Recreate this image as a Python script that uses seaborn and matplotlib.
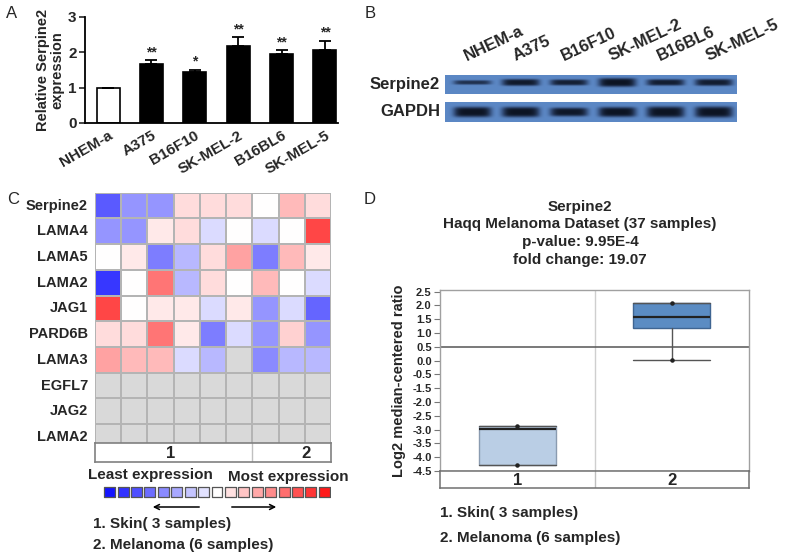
import numpy as np
import matplotlib
matplotlib.use("Agg")
import matplotlib.pyplot as plt
from matplotlib.colors import LinearSegmentedColormap, ListedColormap
import seaborn as sns

sns.set_theme(style="white")
plt.rcParams['font.family'] = ['Liberation Sans', 'DejaVu Sans']
plt.rcParams['font.weight'] = 'bold'

# ---------------- data ----------------
# Panel A
cells = ["NHEM-a", "A375", "B16F10", "SK-MEL-2", "B16BL6", "SK-MEL-5"]
rel_expr = [1.0, 1.68, 1.44, 2.18, 1.94, 2.06]
rel_err = [0.0, 0.10, 0.07, 0.25, 0.12, 0.27]
stars = ["", "**", "*", "**", "**", "**"]

# Panel B (band darkness / thickness per lane)
blot_lanes = ["NHEM-a", "A375", "B16F10", "SK-MEL-2", "B16BL6", "SK-MEL-5"]
serpine2_band = [0.75, 0.95, 0.9, 1.0, 0.92, 0.92]
serpine2_thick = [0.11, 0.17, 0.15, 0.22, 0.16, 0.17]
gapdh_band = [1.0, 1.0, 0.97, 1.0, 1.0, 1.0]
gapdh_thick = [0.26, 0.26, 0.22, 0.25, 0.28, 0.28]

# Panel C
genes = ["Serpine2", "LAMA4", "LAMA5", "LAMA2", "JAG1", "PARD6B", "LAMA3",
         "EGFL7", "JAG2", "LAMA2"]
nan = np.nan
heat_values = [
    [-0.70, -0.45, -0.45, 0.15, 0.15, 0.15, 0.00, 0.30, 0.15],
    [-0.45, -0.45, 0.10, 0.15, -0.15, 0.00, -0.15, 0.00, 0.80],
    [0.00, 0.10, -0.55, -0.30, 0.15, 0.40, -0.55, 0.30, 0.10],
    [-0.85, 0.00, 0.60, -0.30, 0.15, 0.00, 0.30, 0.00, -0.15],
    [0.80, 0.00, 0.10, 0.10, -0.15, 0.10, -0.45, -0.15, -0.65],
    [0.15, 0.15, 0.60, 0.10, -0.55, -0.15, -0.45, 0.20, -0.45],
    [0.40, 0.30, 0.30, -0.15, -0.30, nan, -0.50, -0.30, -0.30],
    [nan] * 9,
    [nan] * 9,
    [nan] * 9,
]
column_groups = ["1", "1", "1", "1", "1", "1", "2", "2", "2"]
legend_levels = [-1.0, -0.875, -0.75, -0.625, -0.5, -0.375, -0.25, -0.125, 0.0,
                 0.125, 0.25, 0.375, 0.5, 0.625, 0.75, 0.875, 1.0]

# Panel D
d_groups = ["1", "2"]
d_min = [-4.30, 0.04]
d_q1 = [-4.30, 1.18]
d_med = [-2.97, 1.57]
d_q3 = [-2.87, 2.10]
d_max = [-2.87, 2.10]
d_ticks = [2.5, 2.0, 1.5, 1.0, 0.5, 0.0, -0.5, -1.5, -2.0, -2.5, -3.0, -3.5, -4.0, -4.5]
d_title = ["Serpine2", "Haqq Melanoma Dataset (37 samples)",
           "p-value: 9.95E-4", "fold change: 19.07"]
sample_notes = ["1. Skin( 3 samples)", "2. Melanoma (6 samples)"]

# ---------------- figure helpers ----------------
W, H = 800, 557
fig = plt.figure(figsize=(W / 100, H / 100), dpi=100)


def px_axes(x0, y0, x1, y1):
    return fig.add_axes([x0 / W, 1 - y1 / H, (x1 - x0) / W, (y1 - y0) / H])


def ftext(x, y, s, **kw):
    kw.setdefault("fontweight", "bold")
    return fig.text(x / W, 1 - y / H, s, **kw)


def fxy(x, y):
    return (x / W, 1 - y / H)


# panel letters
for lab, (x, y) in zip("ABCD", [(12, 13), (370, 13), (13, 199), (370, 199)]):
    ftext(x, y, lab, fontsize=12, fontweight="normal", ha="center", va="center")

# ---------------- Panel A ----------------
axA = px_axes(85, 17, 338, 123)
bar_colors = {c: ("white" if i == 0 else "black") for i, c in enumerate(cells)}
sns.barplot(x=cells, y=rel_expr, hue=cells, palette=bar_colors, legend=False,
            edgecolor="black", linewidth=1.2, width=0.53, errorbar=None,
            saturation=1, ax=axA)
xpos = np.arange(len(cells))
axA.errorbar(xpos, rel_expr, yerr=[np.zeros(len(cells)), rel_err], fmt="none",
             ecolor="black", elinewidth=1.3, capsize=4, capthick=1.3)
for x, v, e, s in zip(xpos, rel_expr, rel_err, stars):
    if s:
        axA.text(x, v + e + 0.02, s, ha="center", va="bottom", fontsize=10,
                 fontweight="bold")
axA.set_xlim(-0.53, 5.3)
axA.set_ylim(0, 3)
axA.set_yticks([0, 1, 2, 3])
axA.set_yticklabels(["0", "1", "2", "3"], fontsize=11, fontweight="bold")
axA.set_xticks(xpos)
axA.set_xticklabels(cells, rotation=30, ha="right", rotation_mode="anchor",
                    fontsize=11, fontweight="bold")
axA.tick_params(axis="y", length=4, width=1.2, direction="out", left=True, pad=2)
axA.tick_params(axis="x", length=0, pad=4)
for sp in ["top", "right"]:
    axA.spines[sp].set_visible(False)
for sp in ["left", "bottom"]:
    axA.spines[sp].set_linewidth(1.3)
    axA.spines[sp].set_color("black")
axA.set_ylabel("Relative Serpine2\nexpression", fontsize=10.5, fontweight="bold",
               linespacing=1.0, labelpad=3)
axA.set_xlabel("")

# ---------------- Panel B ----------------
blot_cmap = LinearSegmentedColormap.from_list(
    "blot", [(0.36, 0.53, 0.77), (0.20, 0.30, 0.47), (0.05, 0.08, 0.14)])


def blot_image(dark, thick, center):
    xs = np.linspace(-0.56, 5.47, 320)
    ys = np.linspace(0, 1, 40)
    X, Y = np.meshgrid(xs, ys)
    img = np.zeros_like(X)
    for i, (d, t) in enumerate(zip(dark, thick)):
        hprof = np.exp(-((X - i) / 0.39) ** 6)
        vprof = np.exp(-((Y - center) / t) ** 4)
        img = np.maximum(img, d * hprof * vprof)
    return img


for (y0, y1), dark, thick, cen, name, ly in [
        ((75, 94), serpine2_band, serpine2_thick, 0.42, "Serpine2", 85),
        ((102, 122), gapdh_band, gapdh_thick, 0.5, "GAPDH", 112)]:
    axb = px_axes(445, y0, 737, y1)
    axb.imshow(blot_image(dark, thick, cen), cmap=blot_cmap, vmin=0, vmax=1,
               extent=(-0.56, 5.47, 1, 0), aspect="auto", interpolation="bilinear")
    axb.set_xticks([])
    axb.set_yticks([])
    for sp in axb.spines.values():
        sp.set_visible(False)
    ftext(440, ly, name, fontsize=12, ha="right", va="center")

lane_px = np.linspace(472, 714, len(blot_lanes))
for x, lab in zip(lane_px, blot_lanes):
    ftext(x - 4, 64, lab, fontsize=12, rotation=25, ha="left", va="bottom",
          rotation_mode="anchor")

# ---------------- Panel C ----------------
heat_cmap = LinearSegmentedColormap.from_list(
    "bwr2", [(0.08, 0.08, 1.0), (1, 1, 1), (1.0, 0.1, 0.1)])
hv = np.array(heat_values, dtype=float)
nan_mask = np.isnan(hv)
axC = px_axes(95, 192.7, 331, 443)
sns.heatmap(np.where(nan_mask, 0, 1), mask=~nan_mask,
            cmap=ListedColormap(["#d9d9d9", "#d9d9d9"]), cbar=False,
            linewidths=1.3, linecolor="#b4b4b4", ax=axC)
sns.heatmap(hv, mask=nan_mask, cmap=heat_cmap, vmin=-1, vmax=1, cbar=False,
            linewidths=1.3, linecolor="#b4b4b4", ax=axC,
            xticklabels=False, yticklabels=genes)
axC.set_ylim(9.73, 0)
axC.set_yticklabels(genes, rotation=0, fontsize=10.5, fontweight="bold")
axC.tick_params(axis="y", length=0, pad=5)
axC.set_xticks([])

# group bar
axG = px_axes(95, 443, 331, 462)
ncol = len(column_groups)
axG.set_xlim(0, ncol)
axG.set_ylim(0, 1)
axG.set_xticks([])
axG.set_yticks([])
for sp in axG.spines.values():
    sp.set_color("#808080")
    sp.set_linewidth(1.2)
grp_names = list(dict.fromkeys(column_groups))
bounds = np.cumsum([column_groups.count(g) for g in grp_names])
for b in bounds[:-1]:
    axG.axvline(b, color="#c0c0c0", lw=1)
grp_label_x = [2.9, 8.05]
for g, gx in zip(grp_names, grp_label_x):
    axG.text(gx, 0.45, g, ha="center", va="center", fontsize=12, fontweight="bold")

# color legend
ftext(88, 475, "Least expression", fontsize=11, ha="left", va="center")
ftext(228, 477, "Most expression", fontsize=11, ha="left", va="center")
axL = px_axes(103, 485, 331, 499)
axL.scatter(np.arange(len(legend_levels)), np.zeros(len(legend_levels)),
            c=legend_levels, cmap=heat_cmap, vmin=-1, vmax=1, marker="s", s=62,
            edgecolors="#555555", linewidths=0.9)
axL.set_xlim(-0.5, len(legend_levels) - 0.5)
axL.set_ylim(-1, 1)
axL.axis("off")
fig.add_artist(matplotlib.patches.FancyArrowPatch(
    fxy(202, 507), fxy(150, 507), transform=fig.transFigure,
    arrowstyle="->", mutation_scale=9, lw=1.1, color="black"))
fig.add_artist(matplotlib.patches.FancyArrowPatch(
    fxy(229, 507), fxy(279, 507), transform=fig.transFigure,
    arrowstyle="->", mutation_scale=9, lw=1.1, color="black"))
ftext(93, 524, sample_notes[0], fontsize=11, ha="left", va="center")
ftext(93, 545, sample_notes[1], fontsize=11, ha="left", va="center")

# ---------------- Panel D ----------------
for s, y in zip(d_title, [207, 224, 242, 260]):
    ftext(580, y, s, fontsize=11, ha="center", va="center")


def fwd(v):
    v = np.asarray(v, dtype=float)
    return np.where(v >= -0.5, v, np.where(v <= -1.5, v + 0.5, -0.5 + (v + 0.5) * 0.5))


def inv(t):
    t = np.asarray(t, dtype=float)
    return np.where(t >= -0.5, t, np.where(t <= -1.0, t - 0.5, -0.5 + (t + 0.5) * 2))


axD = px_axes(440, 290, 749, 471)
axD.set_yscale("function", functions=(fwd, inv))
stats = [dict(med=m, q1=a, q3=b, whislo=lo, whishi=hi, fliers=[], label=g)
         for g, lo, a, m, b, hi in zip(d_groups, d_min, d_q1, d_med, d_q3, d_max)]
bp = axD.bxp(stats, positions=[1, 2], widths=0.5, patch_artist=True,
             showfliers=False, capwidths=0.5,
             medianprops=dict(color="#222222", lw=1.6),
             whiskerprops=dict(color="#555555", lw=1),
             capprops=dict(color="#555555", lw=1),
             boxprops=dict(lw=1))
for patch, fc, ec in zip(bp["boxes"], ["#bacee5", "#5b8cc3"], ["#8a9bb0", "#3f6592"]):
    patch.set_facecolor(fc)
    patch.set_edgecolor(ec)
axD.scatter([1, 1, 2, 2], [d_max[0], d_min[0], d_max[1], d_min[1]], s=5,
            color="#222222", zorder=5)
axD.axhline(0.5, color="#555555", lw=1.1, zorder=1)
axD.axvline(1.5, color="#cfcfcf", lw=1, zorder=0)
axD.set_xlim(0.5, 2.5)
axD.set_ylim(-4.5, 2.56)
axD.set_yticks(d_ticks)
axD.set_yticklabels([f"{t:.1f}" for t in d_ticks], fontsize=8, fontweight="bold")
axD.set_xticks([])
axD.tick_params(axis="y", length=4, width=0.8, color="#777777", left=True, pad=2)
for sp in axD.spines.values():
    sp.set_color("#a0a0a0")
    sp.set_linewidth(1)
axD.set_ylabel("Log2 median-centered ratio", fontsize=10.5, fontweight="bold")
axD.yaxis.set_label_coords(-0.11, 0.5)

axDG = px_axes(440, 471, 749, 488)
axDG.set_xlim(0.5, 2.5)
axDG.set_ylim(0, 1)
axDG.set_xticks([])
axDG.set_yticks([])
for sp in axDG.spines.values():
    sp.set_color("#707070")
    sp.set_linewidth(1.1)
axDG.axvline(1.5, color="#c0c0c0", lw=1)
for i, g in enumerate(d_groups):
    axDG.text(i + 1, 0.45, g, ha="center", va="center", fontsize=12,
              fontweight="bold")

ftext(440, 513, sample_notes[0], fontsize=11, ha="left", va="center")
ftext(440, 538, sample_notes[1], fontsize=11, ha="left", va="center")

fig.savefig("out.png", dpi=100)
